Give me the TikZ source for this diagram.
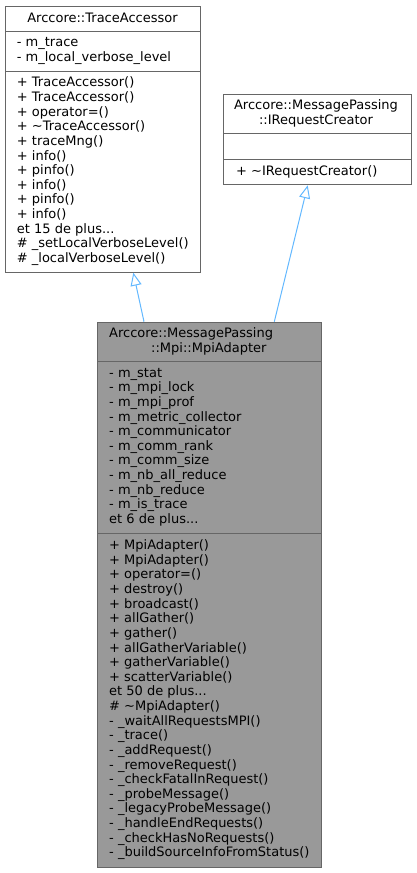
\documentclass[tikz,border=0pt]{standalone}
\usepackage{fontspec}
\setmainfont{DejaVu Sans}
\usetikzlibrary{arrows.meta}
\definecolor{edgeblue}{HTML}{63B8FF}
\definecolor{boxborder}{HTML}{666666}
\definecolor{boxgrey}{HTML}{999999}
\tikzset{
  classbox/.style={draw=boxborder, line width=1pt, rectangle, inner sep=0pt, anchor=north west},
  sepline/.style={draw=boxborder, line width=1pt},
  txt/.style={font=\fontsize{13}{14.63}\selectfont, inner sep=0pt, align=left, anchor=west,
    execute at begin node=\strut, execute at end node=\strut},
  ttl/.style={font=\fontsize{13}{14.63}\selectfont, inner sep=0pt, align=center, anchor=center,
    execute at begin node=\strut, execute at end node=\strut},
  inherit/.style={draw=edgeblue, line width=1pt, -{Triangle[open, length=13pt, width=11pt]}}
}
\begin{document}
\begin{tikzpicture}[x=1pt, y=-1pt]
\useasboundingbox (0,0) rectangle (416,873);
% TraceAccessor
\node[classbox, minimum width=195pt, minimum height=265.7pt] (trace) at (5,6) {};
\draw[sepline] (trace.west |- 0,31.7) -- (trace.east |- 0,31.7);
\draw[sepline] (trace.west |- 0,71) -- (trace.east |- 0,71);
\node[ttl] (traceT) at (102.5,19.2) {Arccore::TraceAccessor};
\node[txt] (traceA) at (16.7,51.7) {- m\_trace\\- m\_local\_verbose\_level};
\node[txt] (traceM) at (16.7,171.9) {+ TraceAccessor()\\+ TraceAccessor()\\+ operator=()\\+ \textasciitilde TraceAccessor()\\+ traceMng()\\+ info()\\+ pinfo()\\+ info()\\+ pinfo()\\+ info()\\et 15 de plus...\\\# \_setLocalVerboseLevel()\\\# \_localVerboseLevel()};
% IRequestCreator
\node[classbox, minimum width=187.4pt, minimum height=90.3pt] (ireq) at (223.3,94) {};
\draw[sepline] (ireq.west |- 0,133.3) -- (ireq.east |- 0,133.3);
\draw[sepline] (ireq.west |- 0,159.3) -- (ireq.east |- 0,159.3);
\node[ttl] (ireqT) at (316,114) {Arccore::MessagePassing\\::IRequestCreator};
\node[txt] (ireqM) at (236,172.2) {+ \textasciitilde IRequestCreator()};
% MpiAdapter
\node[classbox, fill=boxgrey, minimum width=223.4pt, minimum height=545pt] (mpi) at (97.3,321.7) {};
\draw[sepline] (mpi.west |- 0,361.7) -- (mpi.east |- 0,361.7);
\draw[sepline] (mpi.west |- 0,533.3) -- (mpi.east |- 0,533.3);
\node[txt] (mpiT) at (109,342.1) {Arccore::MessagePassing\\\hspace*{42pt}::Mpi::MpiAdapter};
\node[txt] (mpiA) at (109,447.9) {- m\_stat\\- m\_mpi\_lock\\- m\_mpi\_prof\\- m\_metric\_collector\\- m\_communicator\\- m\_comm\_rank\\- m\_comm\_size\\- m\_nb\_all\_reduce\\- m\_nb\_reduce\\- m\_is\_trace\\et 6 de plus...};
\node[txt] (mpiM) at (109,700.5) {+ MpiAdapter()\\+ MpiAdapter()\\+ operator=()\\+ destroy()\\+ broadcast()\\+ allGather()\\+ gather()\\+ allGatherVariable()\\+ gatherVariable()\\+ scatterVariable()\\et 50 de plus...\\\# \textasciitilde MpiAdapter()\\- \_waitAllRequestsMPI()\\- \_trace()\\- \_addRequest()\\- \_removeRequest()\\- \_checkFatalInRequest()\\- \_probeMessage()\\- \_legacyProbeMessage()\\- \_handleEndRequests()\\- \_checkHasNoRequests()\\- \_buildSourceInfoFromStatus()};
% inheritance
\draw[inherit] ([xshift=46.7pt]mpi.north west) -- ([xshift=128.3pt]trace.south west);
\draw[inherit] ([xshift=177pt]mpi.north west) -- ([xshift=84.4pt]ireq.south west);
\end{tikzpicture}
\end{document}
